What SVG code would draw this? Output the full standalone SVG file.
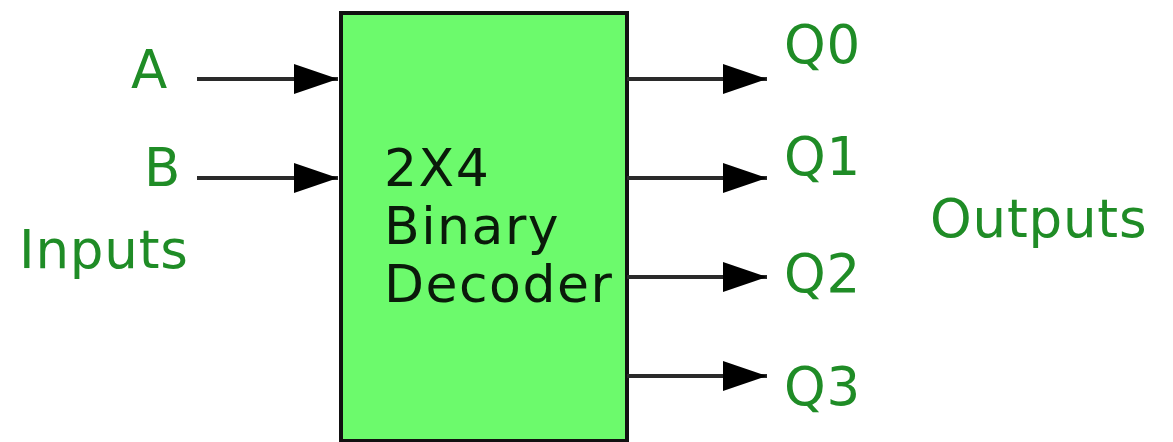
<svg xmlns="http://www.w3.org/2000/svg" width="1173" height="442" viewBox="0 0 1173 442">
<style>
.lbl{font-family:"DejaVu Sans",sans-serif;fill:#1f8c26;font-size:53px;letter-spacing:0.8px}
.inner{font-family:"DejaVu Sans",sans-serif;fill:#0a1a0a;font-size:52px;letter-spacing:1.5px}
.wire{stroke:#2a2a2a;stroke-width:4;fill:none}
</style>
<defs>
<marker id="ah" viewBox="0 0 44 30" refX="44" refY="15" markerWidth="44" markerHeight="30" markerUnits="userSpaceOnUse" orient="auto">
<path d="M0,0 L44,15 L0,30 Z" fill="#000"/>
</marker>
</defs>
<rect width="1173" height="442" fill="#fff"/>
<g id="decoder">
<rect x="341" y="13" width="286" height="428" fill="#6cfa6c" stroke="#111" stroke-width="4"/>
<text class="inner" x="384" y="186">2X4</text>
<text class="inner" x="384" y="244">Binary</text>
<text class="inner" x="384" y="302">Decoder</text>
</g>
<g id="connectors">
<line class="wire" x1="197" y1="79" x2="338" y2="79" marker-end="url(#ah)"/>
<line class="wire" x1="197" y1="178" x2="338" y2="178" marker-end="url(#ah)"/>
<line class="wire" x1="627" y1="79" x2="767" y2="79" marker-end="url(#ah)"/>
<line class="wire" x1="627" y1="178" x2="767" y2="178" marker-end="url(#ah)"/>
<line class="wire" x1="627" y1="277" x2="767" y2="277" marker-end="url(#ah)"/>
<line class="wire" x1="627" y1="376" x2="767" y2="376" marker-end="url(#ah)"/>
</g>
<g id="input-A"><text class="lbl" x="131" y="88">A</text></g>
<g id="input-B"><text class="lbl" x="144" y="186">B</text></g>
<g id="inputs-label"><text class="lbl" x="19" y="268">Inputs</text></g>
<g id="out-Q0"><text class="lbl" x="784" y="63">Q0</text></g>
<g id="out-Q1"><text class="lbl" x="784" y="175">Q1</text></g>
<g id="out-Q2"><text class="lbl" x="784" y="292">Q2</text></g>
<g id="out-Q3"><text class="lbl" x="784" y="405">Q3</text></g>
<g id="outputs-label"><text class="lbl" x="930" y="237">Outputs</text></g>
</svg>
